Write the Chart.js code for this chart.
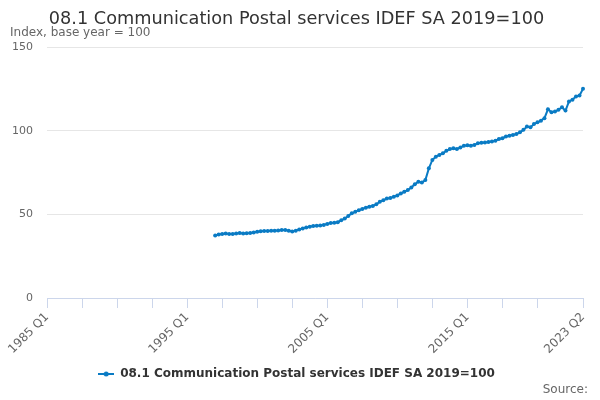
<!DOCTYPE html>
<html lang="en">
<head>
    <meta charset="UTF-8">
    <title>08.1 Communication Postal services IDEF SA 2019=100</title>
    <script src="https://cdn.jsdelivr.net/npm/chart.js"></script>
    <style>
        html, body { margin: 0; padding: 0; background: #ffffff; }
        #wrap { width: 600px; height: 400px; position: relative; }
    </style>
</head>
<body>
    <div id="wrap">
        <canvas id="chart" width="600" height="400"></canvas>
    </div>

    <script>
        // Quarterly categories, 1985 Q1 to 2023 Q2
        const firstYear = 1985;
        const lastYear = 2023;
        const lastQuarter = 2;

        // Series starts at 1997 Q1
        const seriesStart = '1997 Q1';
        const seriesName = '08.1 Communication Postal services IDEF SA 2019=100';
        const seriesValues = [
            37.3, 38.0, 38.3, 38.5, 38.2, 38.3, 38.6, 38.8,
            38.6, 38.7, 38.9, 39.2, 39.6, 39.9, 40.0, 40.1,
            40.2, 40.2, 40.4, 40.6, 40.6, 40.2, 39.7, 40.2,
            41.0, 41.6, 42.2, 42.6, 43.0, 43.2, 43.4, 43.7,
            44.3, 44.8, 45.0, 45.3, 46.5, 47.5, 49.0, 50.6,
            51.5, 52.5, 53.2, 54.0, 54.5, 55.0, 56.0, 57.5,
            58.5, 59.4, 59.8, 60.5, 61.3, 62.5, 63.5, 64.5,
            66.0, 68.0, 69.5, 69.0, 70.5, 77.5, 82.5, 84.5,
            85.5, 86.5, 88.0, 89.0, 89.5, 89.0, 90.0, 91.0,
            91.3, 91.0, 91.5, 92.5, 92.8, 93.0, 93.3, 93.5,
            94.0, 95.0, 95.5, 96.5, 97.0, 97.5, 98.0, 99.0,
            100.5, 102.5, 102.0, 104.0, 105.0, 106.0, 107.5, 112.8,
            111.0, 111.5, 112.5, 114.0, 112.0, 117.5, 118.5, 120.5,
            121.0, 125.0
        ];

        const yTicks = [0, 50, 100, 150];
        const xLabelled = ['1985 Q1', '1995 Q1', '2005 Q1', '2015 Q1', '2023 Q2'];

        const categories = [];
        for (let y = firstYear; y <= lastYear; y++) {
            for (let q = 1; q <= 4; q++) {
                if (y === lastYear && q > lastQuarter) break;
                categories.push(y + ' Q' + q);
            }
        }

        // pad the series with gaps before it starts
        const startIdx = categories.indexOf(seriesStart);
        const data = categories.map((c, i) =>
            i < startIdx ? null : seriesValues[i - startIdx]);

        const lineColor = '#0a7bc4';

        // legend symbol: short line with a dot
        const sym = document.createElement('canvas');
        sym.width = 16;
        sym.height = 8;
        const sctx = sym.getContext('2d');
        sctx.strokeStyle = lineColor;
        sctx.lineWidth = 2;
        sctx.beginPath();
        sctx.moveTo(0, 4);
        sctx.lineTo(16, 4);
        sctx.stroke();
        sctx.fillStyle = lineColor;
        sctx.beginPath();
        sctx.arc(8, 4, 2.5, 0, Math.PI * 2);
        sctx.fill();

        const sourcePlugin = {
            id: 'sourceText',
            afterDraw(chart) {
                const c = chart.ctx;
                c.save();
                c.font = '12px "DejaVu Sans"';
                c.fillStyle = '#666666';
                c.textAlign = 'right';
                c.textBaseline = 'middle';
                c.fillText('Source:', 588, 390);
                c.restore();
            }
        };

        Chart.defaults.font.family = '"DejaVu Sans", sans-serif';
        Chart.defaults.animation = false;

        new Chart(document.getElementById('chart'), {
            type: 'line',
            data: {
                labels: categories,
                datasets: [{
                    label: seriesName,
                    data: data,
                    borderColor: lineColor,
                    backgroundColor: lineColor,
                    borderWidth: 2,
                    pointRadius: 2,
                    pointHoverRadius: 3,
                    pointBackgroundColor: lineColor,
                    pointBorderWidth: 0,
                    tension: 0,
                    spanGaps: false
                }]
            },
            plugins: [sourcePlugin],
            options: {
                responsive: false,
                devicePixelRatio: 1,
                layout: { padding: { left: 10, right: 17, top: 0, bottom: 10 } },
                plugins: {
                    title: {
                        display: true,
                        text: '08.1 Communication Postal services IDEF SA 2019=100',
                        color: '#333333',
                        font: { size: 17.7, weight: 'normal', lineHeight: 0.85 },
                        padding: { top: 12, bottom: 0 }
                    },
                    subtitle: {
                        display: true,
                        text: 'Index, base year = 100',
                        align: 'start',
                        color: '#666666',
                        font: { size: 12, weight: 'normal', lineHeight: 1 },
                        padding: { top: 0, bottom: 8 }
                    },
                    legend: {
                        position: 'bottom',
                        labels: {
                            color: '#333333',
                            font: { size: 12, weight: 'bold' },
                            usePointStyle: true,
                            pointStyle: sym,
                            pointStyleWidth: 16,
                            padding: 8,
                            generateLabels(chart) {
                                return chart.data.datasets.map((ds, i) => ({
                                    text: ds.label,
                                    fontColor: '#333333',
                                    pointStyle: sym,
                                    lineWidth: 0,
                                    strokeStyle: 'transparent',
                                    fillStyle: 'transparent',
                                    datasetIndex: i
                                }));
                            }
                        }
                    },
                    tooltip: { enabled: false }
                },
                scales: {
                    x: {
                        border: { display: true, color: '#ccd6eb' },
                        grid: {
                            drawOnChartArea: false,
                            drawTicks: true,
                            tickLength: 10,
                            color: '#ccd6eb'
                        },
                        ticks: {
                            autoSkip: false,
                            minRotation: 45,
                            maxRotation: 45,
                            color: '#666666',
                            font: { size: 12 },
                            padding: 2,
                            callback(val, i) {
                                const lab = categories[i];
                                if (xLabelled.includes(lab)) return lab;
                                if (i % 10 === 0 && i <= 140) return '';
                                return null;
                            }
                        },
                        afterFit(axis) { axis.height = 62; }
                    },
                    y: {
                        min: 0,
                        max: 150,
                        afterBuildTicks(axis) {
                            axis.ticks = yTicks.map(v => ({ value: v }));
                        },
                        afterFit(axis) { axis.width = 37; },
                        border: { display: false },
                        grid: { color: '#e6e6e6', drawTicks: false },
                        ticks: {
                            color: '#666666',
                            font: { size: 11 },
                            padding: 14
                        }
                    }
                }
            }
        });
    </script>
</body>
</html>
